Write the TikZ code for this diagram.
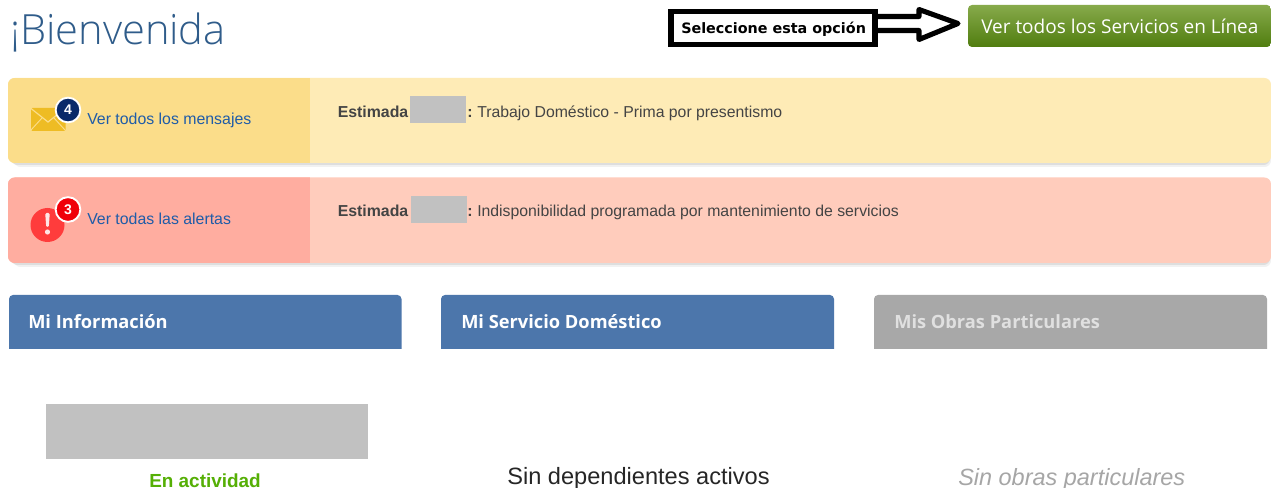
\documentclass[tikz,border=0pt]{standalone}
\usepackage{fontspec}
\setmainfont{Liberation Sans}
\newfontfamily\opensans{Open Sans}
\newfontfamily\opensanslight{Open Sans Light}
\newfontfamily\dejavu{DejaVu Sans}
\definecolor{titleblue}{HTML}{2F5C8A}
\definecolor{msgL}{HTML}{FBDD8A}
\definecolor{msgR}{HTML}{FEEBB6}
\definecolor{alertL}{HTML}{FFADA0}
\definecolor{alertR}{HTML}{FFCCBC}
\definecolor{link}{HTML}{1F5CA8}
\definecolor{hdrblue}{HTML}{4C76AB}
\definecolor{hdrgrey}{HTML}{A8A8A8}
\definecolor{redact}{HTML}{C1C1C1}
\definecolor{bodytxt}{HTML}{444444}
\definecolor{btntop}{HTML}{87AA4B}
\definecolor{btnbot}{HTML}{507D0F}
\definecolor{envel}{HTML}{EEBC24}
\definecolor{navy}{HTML}{0A2A69}
\definecolor{alertic}{HTML}{FF3C3C}
\definecolor{badgered}{HTML}{F0000A}
\definecolor{actgreen}{HTML}{55AF05}
\definecolor{shadowa}{HTML}{F1F1F1}
\definecolor{shadowb}{HTML}{DEDEDE}
\tikzset{
  px/.style={x=0.75pt,y=-0.75pt},
  txt/.style={inner sep=0pt,anchor=base west},
  linktxt/.style={txt,text=link,font=\fontsize{11.9pt}{13pt}\selectfont},
  bodyt/.style={txt,text=bodytxt,font=\fontsize{11.85pt}{13pt}\selectfont},
  boldt/.style={txt,text=bodytxt,font=\fontsize{11.9pt}{13pt}\selectfont\bfseries},
  hdrt/.style={txt,text=white,font=\opensans\fontsize{13.7pt}{15pt}\selectfont\bfseries},
  badge/.style={circle,draw=white,line width=1.4pt,inner sep=0pt,minimum size=18.5pt,text=white,font=\fontsize{10.5pt}{11pt}\selectfont\bfseries},
  cardshadow/.style={rounded corners=5pt},
}
\begin{document}
\begin{tikzpicture}[px]
\useasboundingbox (0,0) rectangle (1271,488);
\fill[white] (0,0) rectangle (1271,488);
% title
\node[txt,text=titleblue,font=\opensanslight\fontsize{31.2pt}{33pt}\selectfont] (title) at (10,45) {¡Bienvenida};
% button
\shade[top color=btntop,bottom color=btnbot,rounded corners=3pt] (968,5) rectangle (1271,47);
\node[txt,text=white,font=\opensans\fontsize{14.25pt}{16pt}\selectfont] (btn) at (981,33.5) {Ver todos los Servicios en Línea};
% callout
\draw[line width=3.8pt,fill=white,line join=round] (870,16.5) -- (919,16.5) -- (919,9.5) -- (958,23.5) -- (919,39.5) -- (919,30.5) -- (870,30.5) -- cycle;
\node[draw=black,line width=4pt,fill=white,minimum width=153pt,minimum height=25pt,inner sep=0pt] (call) at (773,28) {};
\node[txt,font=\dejavu\fontsize{10.75pt}{12pt}\selectfont\bfseries] (calltxt) at (681,33.5) {Seleccione esta opción};
% messages
\fill[shadowa,cardshadow] (14,82) rectangle (1271,167);
\fill[shadowb,cardshadow] (11,80) rectangle (1270,165);
\fill[msgR,cardshadow] (8,78) rectangle (1271,163);
\begin{scope}
\clip[cardshadow] (8,78) rectangle (1271,163);
\fill[msgL] (8,78) rectangle (310,163);
\end{scope}
% alerts
\fill[shadowa,cardshadow] (14,181) rectangle (1271,267);
\fill[shadowb,cardshadow] (11,179) rectangle (1270,265);
\fill[alertR,cardshadow] (8,177.5) rectangle (1271,263);
\begin{scope}
\clip[cardshadow] (8,177.5) rectangle (1271,263);
\fill[alertL] (8,177.5) rectangle (310,263);
\end{scope}
% envelope
\fill[rounded corners=1pt,envel] (31,108) rectangle (65.5,131);
\draw[msgL,line width=0.9pt] (31,108.5) -- (48,122) -- (65,108.5);
\draw[msgL,line width=0.7pt] (31,130) -- (42,118) (65,130) -- (54,118);
\node[badge,fill=navy] (b4) at (68,110) {4};
\node[linktxt] (l1) at (87,125) {Ver todos los mensajes};
% alert icon
\fill[alertic] (47.5,225) circle (17);
\fill[white!90!red,rounded corners=1pt] (45.2,213) -- (49.8,213) -- (48.8,227) -- (46.2,227) -- cycle;
\fill[white!90!red] (47.5,232) circle (2.6);
\node[badge,fill=badgered] (b3) at (68,209.5) {3};
\node[linktxt] (l2) at (87,224.5) {Ver todas las alertas};
% message text
\node[boldt] (e1) at (337.5,117.5) {Estimada};
\fill[redact] (410,96) rectangle (466,123);
\node[boldt] (c1) at (467,117.5) {:};
\node[bodyt] (m1) at (477,117.5) {Trabajo Doméstico - Prima por presentismo};
\node[boldt] (e2) at (337.5,216.5) {Estimada};
\fill[redact] (411,196) rectangle (467,223);
\node[boldt] (c2) at (467,216.5) {:};
\node[bodyt] (m2) at (477,216.5) {Indisponibilidad programada por mantenimiento de servicios};
% column headers
\fill[hdrblue] (9,349) {[rounded corners=3pt] -- (9,295) -- (401.5,295)} -- (401.5,349) -- cycle;
\fill[hdrblue] (441,349) {[rounded corners=3pt] -- (441,295) -- (834,295)} -- (834,349) -- cycle;
\fill[hdrgrey] (874,349) {[rounded corners=3pt] -- (874,295) -- (1267,295)} -- (1267,349) -- cycle;
\node[hdrt] (h1) at (28,329) {Mi Información};
\node[hdrt] (h2) at (461,329) {Mi Servicio Doméstico};
\node[hdrt,text=white!88!black] (h3) at (894,329) {Mis Obras Particulares};
% bottom
\fill[redact] (46,404) rectangle (368,459);
\node[txt,text=actgreen,font=\fontsize{14.2pt}{15pt}\selectfont\bfseries] (act) at (149,487) {En actividad};
\node[txt,text=black!85,font=\fontsize{17.7pt}{19pt}\selectfont] (sd) at (507,484) {Sin dependientes activos};
\node[txt,text=black!35,font=\fontsize{17.6pt}{19pt}\selectfont\itshape] (so) at (958,485) {Sin obras particulares};
\end{tikzpicture}
\end{document}
